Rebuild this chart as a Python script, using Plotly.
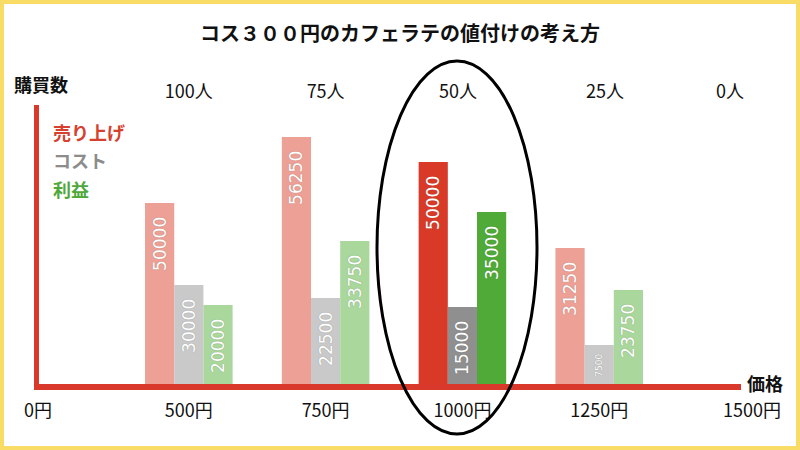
import plotly.graph_objects as go

# ---- data ----
title_text = "コス３００円のカフェラテの値付けの考え方"
price_labels = ["0円", "500円", "750円", "1000円", "1250円", "1500円"]
people_labels = ["100人", "75人", "50人", "25人", "0人"]
series_names = ["売り上げ", "コスト", "利益"]

# printed values inside the bars (500円, 750円, 1000円, 1250円)
sales_values = [50000, 56250, 50000, 31250]
cost_values = [30000, 22500, 15000, 7500]
profit_values = [20000, 33750, 35000, 23750]

# drawn bar heights as they appear in the picture (hidden y axis units)
sales_heights = [181, 247, 222, 136]
cost_heights = [99, 86, 77, 39]
profit_heights = [79, 143, 172, 94]

highlight_index = 2  # the 1000円 group

# ---- styling ----
faded = {"sales": "#EDA096", "cost": "#C9C9C9", "profit": "#A9D79C"}
strong = {"sales": "#D93A28", "cost": "#8F8F8F", "profit": "#4FAA37"}
axis_red = "#D9392B"
legend_colors = ["#D6402E", "#8C8C8C", "#4EA83A"]
jp_font = "Noto Sans CJK JP, Noto Sans, sans-serif"
num_font = "DejaVu Sans, sans-serif"

bar_x = list(range(1, len(sales_values) + 1))
pad = "\u00a0\u00a0"


def colors(key):
    return [strong[key] if i == highlight_index else faded[key] for i in range(len(bar_x))]


def texts(vals):
    return [f"{v}{pad}" for v in vals]


def sizes(vals):
    return [9 if v < 10000 else 17 for v in vals]


fig = go.Figure()
for name, key, heights, vals in [
    (series_names[0], "sales", sales_heights, sales_values),
    (series_names[1], "cost", cost_heights, cost_values),
    (series_names[2], "profit", profit_heights, profit_values),
]:
    fig.add_trace(go.Bar(
        name=name, x=bar_x, y=heights,
        marker=dict(color=colors(key), line=dict(width=0)),
        text=texts(vals), textposition="inside", insidetextanchor="end",
        textangle=-90, constraintext="none",
        textfont=dict(family=num_font, size=sizes(vals), color="white",
                      shadow="0px 0px 1px rgba(90,90,90,0.55)"),
        hoverinfo="skip",
    ))

# a dummy invisible trace on the top axis so that it is drawn
fig.add_trace(go.Scatter(x=[1], y=[0], xaxis="x2", mode="markers",
                         marker=dict(opacity=0), hoverinfo="skip", showlegend=False))

L, R, T, B = 36, 28, 105, 66
W, H = 800, 450
pw, ph = W - L - R, H - T - B


def px2paper_x(px):
    return (px - L) / pw


def px2paper_y(py):
    return (H - B - py) / ph


bottom_tick_pos = [-0.102, 1, 2, 3, 4, 5.117]
top_tick_pos = [1, 2, 2.968, 4.042, 4.956]
xr = [-0.117, 5.263]

fig.update_layout(
    width=W, height=H,
    margin=dict(l=L, r=R, t=T, b=B),
    paper_bgcolor="white", plot_bgcolor="white",
    barmode="group", bargap=0.36, bargroupgap=0,
    showlegend=False, hovermode=False,
    title=dict(text=f"<b>{title_text}</b>", x=0.5, xanchor="center",
               y=1 - 34 / H, yanchor="middle", yref="container",
               font=dict(family=jp_font, size=20, color="#111111")),
    xaxis=dict(range=xr, showgrid=False, zeroline=False, showline=False,
               tickmode="array", tickvals=bottom_tick_pos, ticktext=price_labels,
               ticks="", ticklabelstandoff=14,
               tickfont=dict(family=jp_font, size=18, color="#111111")),
    xaxis2=dict(range=xr, overlaying="x", side="top", showgrid=False,
                zeroline=False, showline=False, tickmode="array",
                tickvals=top_tick_pos, ticktext=people_labels, ticks="",
                ticklabelstandoff=2,
                tickfont=dict(family=jp_font, size=18, color="#111111")),
    yaxis=dict(range=[0, ph], visible=False, fixedrange=True),
)

shapes = []
# horizontal axis bar
shapes.append(dict(type="rect", xref="paper", yref="paper",
                   x0=px2paper_x(34), x1=px2paper_x(741),
                   ysizemode="pixel", yanchor=0, y0=-6, y1=0,
                   fillcolor=axis_red, line=dict(width=0), layer="above"))
# vertical axis bar
shapes.append(dict(type="rect", xref="paper", yref="paper",
                   xsizemode="pixel", xanchor=0, x0=-2, x1=3,
                   y0=-6 / ph, y1=1,
                   fillcolor=axis_red, line=dict(width=0), layer="above"))
# highlight ellipse
shapes.append(dict(type="circle", xref="paper", yref="paper",
                   x0=px2paper_x(377), x1=px2paper_x(537),
                   y0=px2paper_y(434), y1=px2paper_y(61),
                   line=dict(color="black", width=3), layer="above"))
# yellow frame
shapes.append(dict(type="rect", xref="paper", yref="paper",
                   x0=px2paper_x(0), x1=px2paper_x(W),
                   y0=px2paper_y(H), y1=px2paper_y(0),
                   line=dict(color="#F8DC66", width=8), layer="above"))
fig.update_layout(shapes=shapes)

annotations = [
    dict(text="<b>購買数</b>", x=px2paper_x(12), y=px2paper_y(84),
         xanchor="left", yanchor="middle",
         font=dict(family=jp_font, size=18, color="#111111")),
    dict(text="<b>価格</b>", x=px2paper_x(745), y=px2paper_y(383),
         xanchor="left", yanchor="middle",
         font=dict(family=jp_font, size=18, color="#111111")),
]
for name, col, py in zip(series_names, legend_colors, [132, 160, 189]):
    annotations.append(dict(text=f"<b>{name}</b>", x=px2paper_x(51), y=px2paper_y(py),
                            xanchor="left", yanchor="middle",
                            font=dict(family=jp_font, size=18, color=col)))
for a in annotations:
    a.update(xref="paper", yref="paper", showarrow=False)
fig.update_layout(annotations=annotations)

fig.write_html("out.html", config={"displayModeBar": False})
